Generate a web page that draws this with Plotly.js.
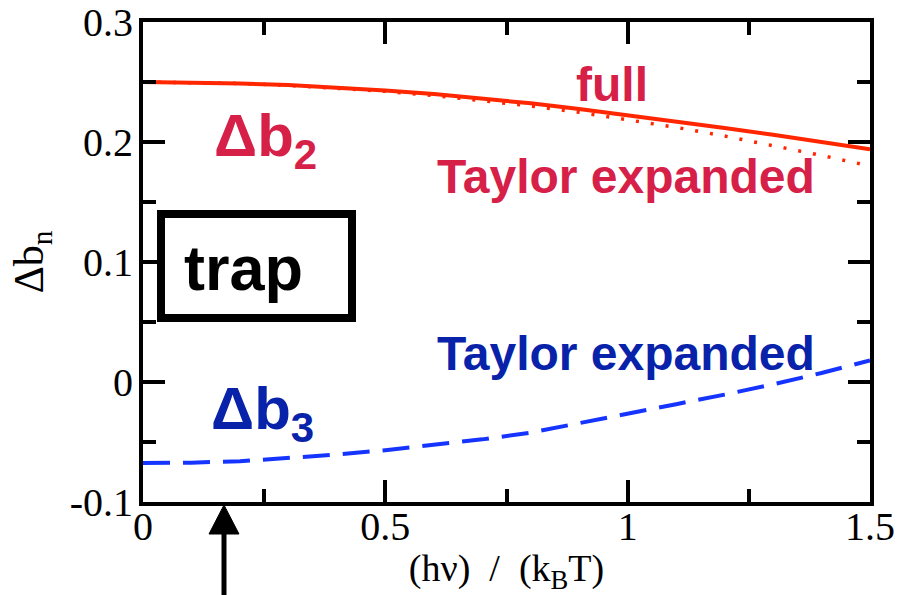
<!DOCTYPE html>
<html>
<head>
<meta charset="utf-8">
<script src="https://cdn.plot.ly/plotly-3.0.1.min.js"></script>
<style>html,body{margin:0;padding:0;background:#fff;}#chart{width:901px;height:595px;}</style>
</head>
<body>
<div id="chart"></div>
<script>
// x: (h nu)/(k_B T)
const xVals = [0, 0.1, 0.2, 0.3, 0.4, 0.5, 0.6, 0.7, 0.8, 0.9, 1.0, 1.1, 1.2, 1.3, 1.4, 1.5];
// Delta b2, full
const b2Full = [0.2500, 0.2498, 0.2488, 0.2474, 0.2455, 0.2430, 0.2400, 0.2363, 0.2322, 0.2275, 0.2225, 0.2172, 0.2117, 0.2060, 0.2000, 0.1940];
// Delta b2, Taylor expanded
const b2Taylor = [0.2500, 0.2497, 0.2488, 0.2472, 0.2450, 0.2422, 0.2388, 0.2347, 0.2300, 0.2247, 0.2188, 0.2122, 0.2050, 0.1972, 0.1888, 0.1800];
// Delta b3, Taylor expanded
const b3Taylor = [-0.0675, -0.0672, -0.0660, -0.0636, -0.0605, -0.0568, -0.0525, -0.0478, -0.0422, -0.0345, -0.0265, -0.0185, -0.0105, -0.0020, 0.0075, 0.0180];

const xTickVals = [0, 0.5, 1, 1.5];
const xTickText = ['0', '0.5', '1', '1.5'];
const yTickVals = [-0.1, 0, 0.1, 0.2, 0.3];
const yTickText = ['-0.1', '0', '0.1', '0.2', '0.3'];

const RED_LINE = 'rgb(255,38,0)';
const BLUE_LINE = 'rgb(22,52,255)';
const RED_TEXT = 'rgb(214,32,72)';
const BLUE_TEXT = 'rgb(8,34,170)';

// plot area in pixels
const L = 143, R = 870, T = 22, B = 502;
const px = v => (v - L) / (R - L);
const py = v => (B - v) / (B - T);

const traces = [
  {x: xVals, y: b2Full, mode: 'lines', line: {color: RED_LINE, width: 4}, hoverinfo: 'skip'},
  {x: xVals, y: b2Taylor, mode: 'lines', line: {color: RED_LINE, width: 3.5, dash: '3px,12px'}, hoverinfo: 'skip'},
  {x: xVals, y: b3Taylor, mode: 'lines', line: {color: BLUE_LINE, width: 4, dash: '27px,13px'}, hoverinfo: 'skip'}
];

const sans = 'Liberation Sans, Arial, sans-serif';
const serif = 'Liberation Serif, Times New Roman, serif';

const annotations = [
  {text: 'Δb<sub>2</sub>', x: px(212), y: py(140), xanchor: 'left', yanchor: 'middle', font: {family: sans, size: 60, color: RED_TEXT, weight: 'bold'}},
  {text: 'full', x: px(612), y: py(85), xanchor: 'center', yanchor: 'middle', font: {family: sans, size: 48, color: RED_TEXT, weight: 'bold'}},
  {text: 'Taylor expanded', x: px(626), y: py(177), xanchor: 'center', yanchor: 'middle', font: {family: sans, size: 48, color: RED_TEXT, weight: 'bold'}},
  {text: 'trap', x: px(243), y: py(268), xanchor: 'center', yanchor: 'middle', font: {family: sans, size: 63, color: '#000', weight: 'bold'}},
  {text: 'Taylor expanded', x: px(626), y: py(353), xanchor: 'center', yanchor: 'middle', font: {family: sans, size: 48, color: BLUE_TEXT, weight: 'bold'}},
  {text: 'Δb<sub>3</sub>', x: px(209), y: py(413), xanchor: 'left', yanchor: 'middle', font: {family: sans, size: 60, color: BLUE_TEXT, weight: 'bold'}}
].map(a => Object.assign({xref: 'paper', yref: 'paper', showarrow: false}, a));

const shapes = [
  {type: 'rect', xref: 'paper', yref: 'paper', x0: px(161), x1: px(352), y0: py(318), y1: py(214), line: {color: '#000', width: 8}},
  {type: 'line', xref: 'paper', yref: 'paper', x0: px(224), x1: px(224), y0: py(530), y1: py(600), line: {color: '#000', width: 5}},
  {type: 'path', xref: 'paper', yref: 'paper', fillcolor: '#000', line: {color: '#000', width: 1},
   path: `M ${px(224)} ${py(505)} L ${px(209)} ${py(534)} L ${px(239)} ${py(534)} Z`}
];

const axisCommon = {
  showline: true, linecolor: '#000', linewidth: 4, mirror: 'ticks',
  ticks: 'inside', ticklen: 22, tickwidth: 4, tickcolor: '#000',
  showgrid: false, zeroline: false, tickmode: 'array',
  tickfont: {family: serif, size: 40, color: '#000'}
};

const layout = {
  width: 901, height: 595,
  margin: {l: L, r: 901 - R, t: T, b: 595 - B, pad: 0},
  paper_bgcolor: '#fff', plot_bgcolor: '#fff',
  showlegend: false,
  xaxis: Object.assign({}, axisCommon, {
    range: [0, 1.5], tickvals: xTickVals, ticktext: xTickText,
    ticklabelstandoff: -14,
    minor: {dtick: 0.25, tick0: 0, ticks: 'inside', ticklen: 13, tickwidth: 4, tickcolor: '#000'},
    title: {text: '(hν)  /  (k<sub>B</sub>T)', font: {family: serif, size: 38, color: '#000'}, standoff: 0}
  }),
  yaxis: Object.assign({}, axisCommon, {
    range: [-0.1, 0.3], tickvals: yTickVals, ticktext: yTickText,
    ticklabelstandoff: -2,
    minor: {dtick: 0.05, tick0: 0, ticks: 'inside', ticklen: 13, tickwidth: 4, tickcolor: '#000'},
    title: {text: 'Δb<sub>n</sub>', font: {family: serif, size: 42, color: '#000'}, standoff: 14}
  }),
  annotations: annotations,
  shapes: shapes
};

Plotly.newPlot('chart', traces, layout, {staticPlot: true, displayModeBar: false});
</script>
</body>
</html>
